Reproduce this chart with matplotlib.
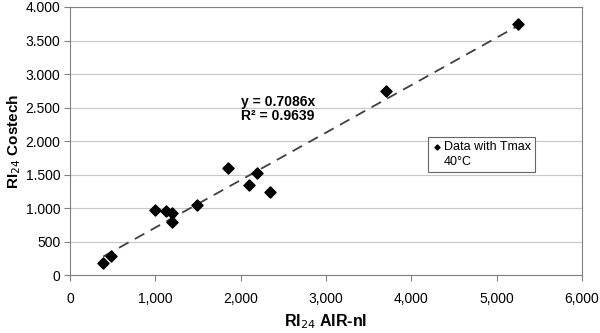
import numpy as np
import matplotlib.pyplot as plt
from matplotlib.lines import Line2D
from matplotlib.ticker import FuncFormatter

plt.rcParams['font.family'] = ['Liberation Sans', 'DejaVu Sans']

# data
air_nl = [390, 480, 1000, 1120, 1190, 1200, 1490, 1850, 2100, 2190, 2340, 3700, 5250]
costech = [180, 280, 970, 950, 920, 790, 1050, 1600, 1350, 1530, 1240, 2740, 3750]
slope = 0.7086
r2 = 0.9639
x_ticks = [0, 1000, 2000, 3000, 4000, 5000, 6000]
y_ticks = [0, 500, 1000, 1500, 2000, 2500, 3000, 3500, 4000]

fig = plt.figure(figsize=(6, 3.33), dpi=100)
ax = fig.add_axes([0.1167, 0.174, 0.8533, 0.805])

pts = ax.scatter(air_nl, costech, marker='D', s=32, color='black', zorder=3)
fit_x = np.array([min(air_nl), max(air_nl)])
ax.plot(fit_x, slope * fit_x, color='#404040', linestyle=(0, (6, 4)), lw=1.3, zorder=2)

ax.text(2000, 2690, 'y = %.4fx\nR² = %.4f' % (slope, r2), fontsize=10,
        fontweight='bold', va='top', ha='left', linespacing=1.0)

ax.set_xlim(0, 6000)
ax.set_ylim(0, 4000)
ax.set_xticks(x_ticks)
ax.set_yticks(y_ticks)
ax.xaxis.set_major_formatter(FuncFormatter(lambda v, p: '{:,}'.format(int(v))))
ax.yaxis.set_major_formatter(FuncFormatter(lambda v, p: '{:,}'.format(int(v)).replace(',', '.')))
ax.tick_params(direction='out', length=4, color='#808080', labelsize=10, pad=3)
ax.tick_params(axis='x', pad=8)
ax.grid(axis='y', color='#c8c8c8', lw=0.8)
ax.set_axisbelow(True)
for s in ax.spines.values():
    s.set_color('#808080')

ax.set_xlabel('RI$_{24}$ AIR-nl', fontsize=11.5, fontweight='bold', labelpad=5)
ax.set_ylabel('RI$_{24}$ Costech', fontsize=11, fontweight='bold', labelpad=2)

blank = Line2D([], [], linestyle='none')
leg = ax.legend([pts, blank], ['Data with Tmax', '40°C'], loc='upper left',
                bbox_to_anchor=(0.70, 0.515), borderaxespad=0,
                fontsize=9, frameon=True, fancybox=False, handletextpad=0.2,
                handlelength=0.7, borderpad=0.35, labelspacing=0.2, markerscale=0.45)
leg.get_frame().set_edgecolor('#404040')
leg.get_frame().set_linewidth(0.8)

plt.savefig('out.png')
